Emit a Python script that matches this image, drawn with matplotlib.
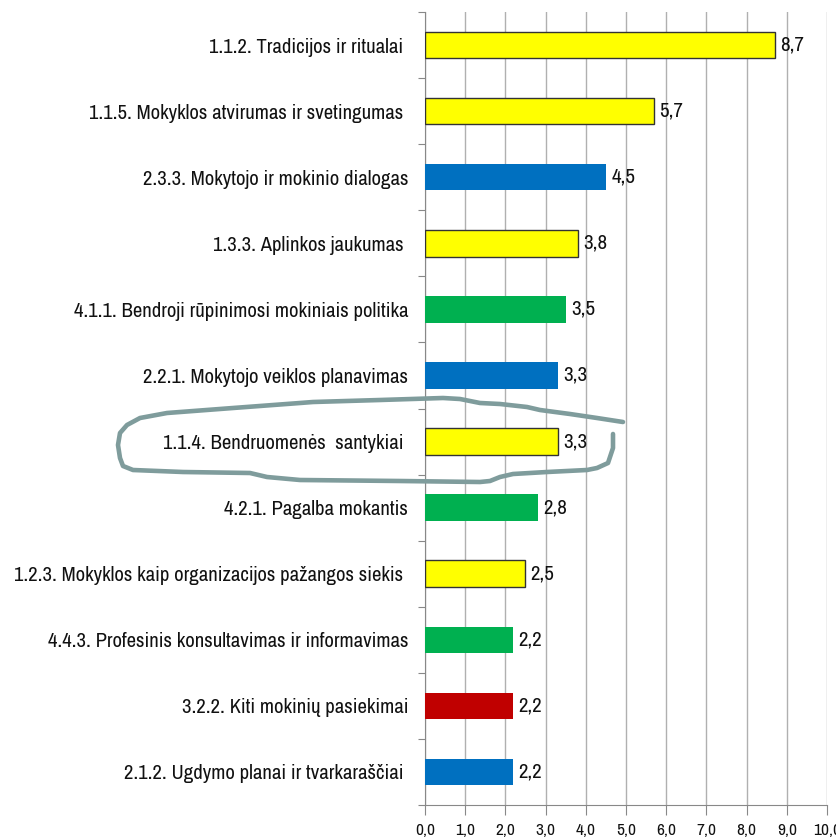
import matplotlib.pyplot as plt
from matplotlib.lines import Line2D

# data, top to bottom as in the chart
labels = [
    "1.1.2. Tradicijos ir ritualai ",
    "1.1.5. Mokyklos atvirumas ir svetingumas ",
    "2.3.3. Mokytojo ir mokinio dialogas",
    "1.3.3. Aplinkos jaukumas ",
    "4.1.1. Bendroji rūpinimosi mokiniais politika",
    "2.2.1. Mokytojo veiklos planavimas",
    "1.1.4. Bendruomenės  santykiai ",
    "4.2.1. Pagalba mokantis",
    "1.2.3. Mokyklos kaip organizacijos pažangos siekis ",
    "4.4.3. Profesinis konsultavimas ir informavimas",
    "3.2.2. Kiti mokinių pasiekimai",
    "2.1.2. Ugdymo planai ir tvarkaraščiai ",
]
values = [8.7, 5.7, 4.5, 3.8, 3.5, 3.3, 3.3, 2.8, 2.5, 2.2, 2.2, 2.2]
area = [1, 1, 2, 1, 4, 2, 1, 4, 1, 4, 3, 2]  # first digit of code -> colour
area_colors = {1: "#FFFF00", 2: "#0070C0", 3: "#C00000", 4: "#00B050"}
xticks = [0, 1, 2, 3, 4, 5, 6, 7, 8, 9, 10]

plt.rcParams['font.family'] = ['Archivo Narrow', 'DejaVu Sans']

fig = plt.figure(figsize=(8.37, 8.39), dpi=100)
ax = fig.add_axes([425 / 837, 34 / 839, 402 / 837, 793 / 839])

n = len(values)
ypos = list(range(n))
colors = [area_colors[a] for a in area]
edges = ["#333333" if a == 1 else "none" for a in area]
ax.barh(ypos, values, height=0.4, color=colors, edgecolor=edges, linewidth=1.0, zorder=3)

for y, v in zip(ypos, values):
    ax.text(v + 0.13, y, f"{v:.1f}".replace(".", ","), va="center", ha="left",
            fontsize=15, color="#111111")

ax.set_ylim(n - 0.5, -0.5)
ax.set_xlim(0, 10)
ax.set_yticks([i + 0.5 for i in range(-1, n)], minor=False)
ax.set_yticklabels([])
ax.set_yticks(ypos, minor=True)
ylab = ax.set_yticklabels(labels, minor=True, fontsize=15, color="#111111")
ax.tick_params(axis="y", which="minor", length=0, pad=12)
ax.tick_params(axis="y", which="major", length=5, color="#888888", direction="out")

ax.set_xticks(xticks)
ax.set_xticklabels([f"{t:.1f}".replace(".", ",") for t in xticks], fontsize=12.5, color="#111111")
ax.tick_params(axis="x", length=7, color="#888888", pad=6)
ax.grid(axis="x", color="#B0B0B0", linewidth=1.0, zorder=0)

for s in ["top", "right"]:
    ax.spines[s].set_visible(False)
ax.spines["left"].set_color("#888888")
ax.spines["bottom"].set_color("#888888")

# fit label size so the longest label spans ~392 px like the reference
r = fig.canvas.get_renderer()
w = ylab[8].get_window_extent(r).width
size = 15 * 392 / w
for t in ylab:
    t.set_fontsize(size)

# hand-drawn loop around 1.1.4 (pixel coords from top-left)
loop = [(623, 422), (597, 418), (570, 414), (540, 410), (527, 407), (500, 404), (480, 403),
        (460, 399), (443, 398), (380, 400), (313, 402), (300, 403), (233, 408), (167, 413),
        (140, 418), (127, 425), (120, 433), (118, 445), (120, 458), (123, 466), (133, 470),
        (183, 472), (250, 473), (267, 477), (300, 480), (400, 481), (480, 482), (490, 481),
        (500, 477), (513, 474), (547, 472), (587, 470), (597, 468), (608, 463), (613, 448),
        (613, 434)]
xs = [p[0] / 837 for p in loop]
ys = [1 - p[1] / 839 for p in loop]
fig.add_artist(Line2D(xs, ys, transform=fig.transFigure, color="#7F9C9C",
                      linewidth=3.3, solid_capstyle="round", solid_joinstyle="round"))

fig.savefig("out.png", dpi=100)
